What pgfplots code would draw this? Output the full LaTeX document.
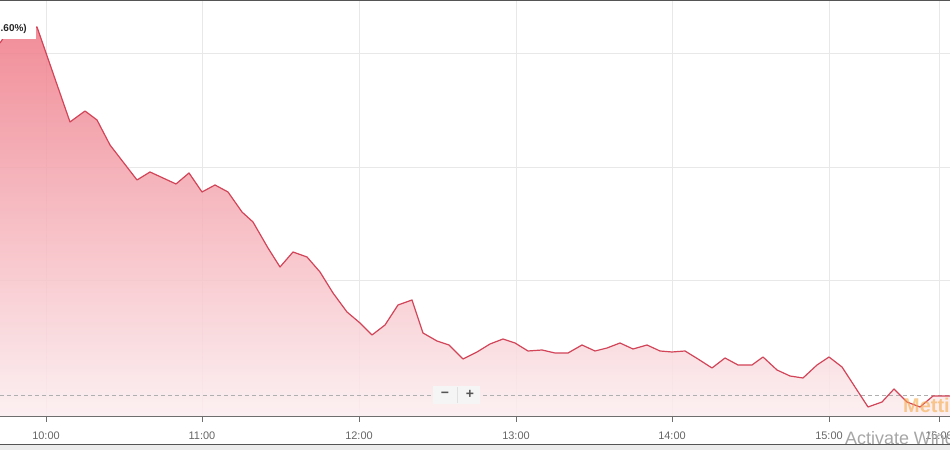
\documentclass[border=0pt]{standalone}
\usepackage{pgfplots}
\pgfplotsset{compat=1.18}
\usepackage{fontspec}
\setmainfont{Liberation Sans}
\definecolor{linec}{RGB}{210,68,88}
\definecolor{filltop}{RGB}{239,122,135}
\definecolor{fillbot}{RGB}{252,238,240}
\definecolor{gridc}{RGB}{232,232,232}
\definecolor{labelc}{RGB}{102,102,102}
\definecolor{axisc}{RGB}{110,110,110}
\definecolor{bordc}{RGB}{85,85,85}
\definecolor{bggray}{RGB}{236,236,236}
\definecolor{dashc}{RGB}{175,175,175}
\definecolor{mettis}{RGB}{246,170,70}
\pgfplotstableread{
x y
0 374
10 389
24 387
37 390
70 295
85 306
97 297
110 272
137 237
150 245
176 233
189 244
202 225
215 232
228 225
242 205
253 195
268 169
280 150
293 165
307 160
320 145
333 124
347 105
360 94
372 82
385 92
398 112
412 117
423 84
437 76
449 72
463 58
477 65
490 73
503 78
515 74
528 66
542 67
555 64
568 64
582 72
595 66
607 69
620 74
633 68
647 72
660 66
672 65
685 66
698 58
712 49
725 59
738 52
752 52
763 60
777 47
790 41
803 39
817 52
829 60
842 50
855 30
868 10
882 15
894 28
907 15
920 10
933 21
950 21
}\series
\begin{document}
\begin{tikzpicture}[x=1bp,y=1bp]
\useasboundingbox (0,-33) rectangle (950,417);
\clip (0,-33) rectangle (950,417);
\fill[white] (0,-33) rectangle (950,417);
\fill[bggray] (0,-33) rectangle (950,-28);
\begin{axis}[
  at={(0,0)}, anchor=south west,
  scale only axis, width=950bp, height=417bp,
  xmin=0, xmax=950, ymin=0, ymax=417,
  axis line style={draw=none},
  xtick={46,202,359,516,672,829,939},
  xticklabels={10:00,11:00,12:00,13:00,14:00,15:00,16:00},
  ytick={137,250,364}, yticklabels={},
  xmajorgrids, ymajorgrids,
  grid style={draw=gridc, line width=0.8bp},
  xtick pos=left, ytick pos=left,
  tick align=outside,
  major tick length=5bp,
  xtick style={draw=axisc, line width=0.8bp},
  ytick style={draw=none},
  xticklabel style={font=\fontsize{11}{13}\selectfont, text=labelc, anchor=center, yshift=-14bp},
  clip=true,
]
\addplot[draw=none, top color=filltop, bottom color=fillbot, fill opacity=0.85] table[x=x,y=y] {\series} \closedcycle;
\draw[dashc, line width=0.8bp, dash pattern=on 4bp off 3bp] (axis cs:0,22) -- (axis cs:950,22);
\addplot[linec, line width=1.2bp, line join=round] table[x=x,y=y] {\series};
\end{axis}
% axis lines and borders
\draw[axisc, line width=1bp] (0,0) -- (950,0);
\draw[bordc, line width=2bp] (0,417) -- (950,417);
\draw[bordc, line width=1bp] (0,-28) -- (950,-28);
% zoom buttons
\fill[white!96!black] (433,13) rectangle (480,31);
\draw[white!88!black, line width=0.6bp] (457,14) -- (457,30);
\node[text=bordc, font=\fontsize{14}{14}\selectfont\bfseries] at (445,22) {\textminus};
\node[text=bordc, font=\fontsize{14}{14}\selectfont\bfseries] at (470,22.5) {+};
% top-left label
\fill[white] (0,378) rectangle (36,400);
\node[anchor=west, inner sep=0pt, text=black!85, font=\fontsize{10}{10}\selectfont\bfseries] at (0.5,388) {.60\%)};
% watermarks
\node[anchor=base west, inner sep=0pt, text=mettis, opacity=0.6, font=\fontsize{20}{20}\selectfont\bfseries] at (903,4) {Mettis};
\node[anchor=base west, inner sep=0pt, text=black!35, font=\fontsize{18}{18}\selectfont] at (845,-28) {Activate Windows};
\end{tikzpicture}
\end{document}
